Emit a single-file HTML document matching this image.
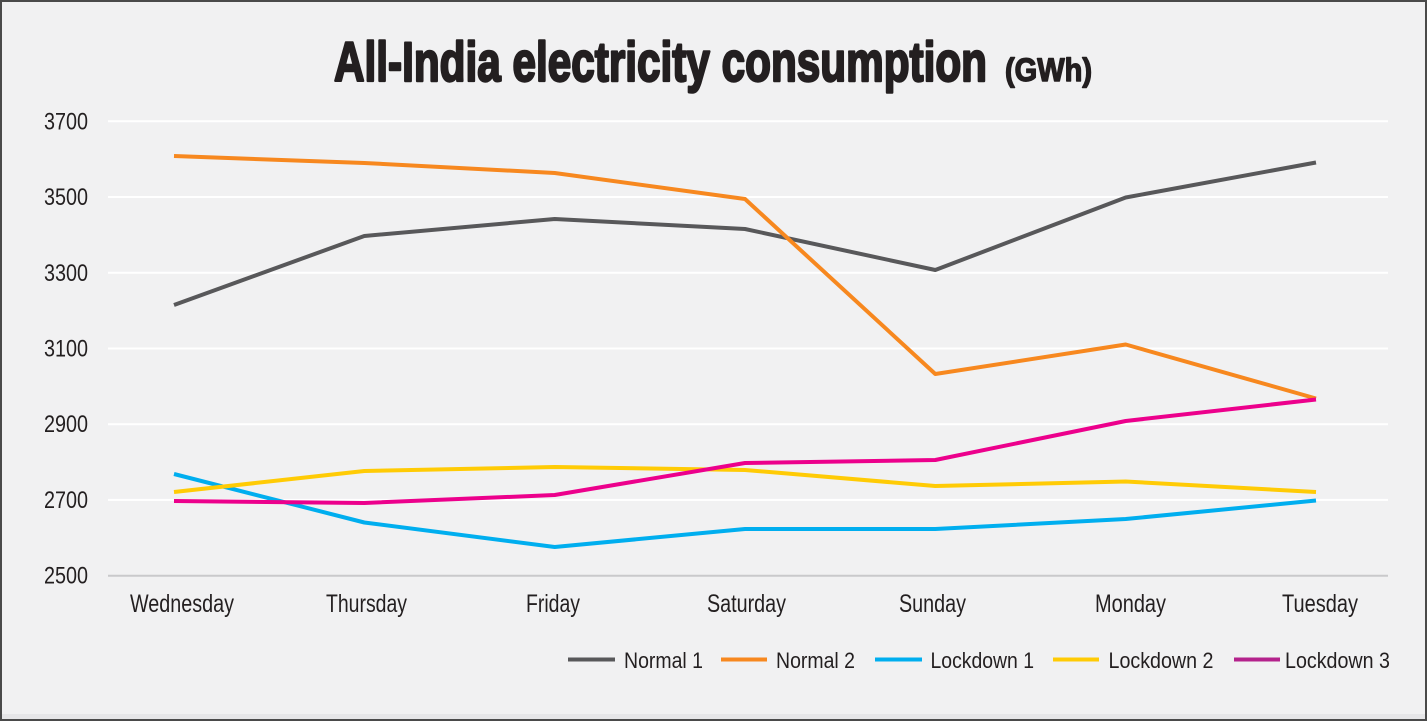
<!DOCTYPE html>
<html>
<head>
<meta charset="utf-8">
<style>
  html,body{margin:0;padding:0;background:#f1f1f2;}
  svg{display:block;}
  text{font-family:"Liberation Sans",Arial,sans-serif;fill:#231f20;}
</style>
</head>
<body>
<svg width="1428" height="722" viewBox="0 0 1428 722" xmlns="http://www.w3.org/2000/svg">
  <rect x="0" y="0" width="1428" height="722" fill="#ffffff"/>
  <rect x="1" y="1" width="1425" height="719" fill="#f1f1f2" stroke="#4a4a4a" stroke-width="2"/>
  <rect x="2" y="714" width="1423" height="5" fill="#e6e6e8"/>

  <!-- Title -->
  <text x="334" y="81" font-size="56" font-weight="bold" textLength="653" lengthAdjust="spacingAndGlyphs" stroke="#231f20" stroke-width="2.4" stroke-linejoin="round">All-India electricity consumption</text>
  <text x="1005" y="81" font-size="32" font-weight="bold" textLength="87" lengthAdjust="spacingAndGlyphs" stroke="#231f20" stroke-width="1.4" stroke-linejoin="round">(GWh)</text>

  <!-- Gridlines -->
  <g stroke="#ffffff" stroke-width="2">
    <line x1="108" y1="121.3" x2="1388" y2="121.3"/>
    <line x1="108" y1="197" x2="1388" y2="197"/>
    <line x1="108" y1="272.8" x2="1388" y2="272.8"/>
    <line x1="108" y1="348.5" x2="1388" y2="348.5"/>
    <line x1="108" y1="424.2" x2="1388" y2="424.2"/>
    <line x1="108" y1="499.9" x2="1388" y2="499.9"/>
  </g>
  <line x1="108" y1="575.7" x2="1388" y2="575.7" stroke="#c9c9cb" stroke-width="2"/>

  <!-- Y labels -->
  <g font-size="24" text-anchor="end">
    <text x="88" y="129.5" textLength="44" lengthAdjust="spacingAndGlyphs">3700</text>
    <text x="88" y="205" textLength="44" lengthAdjust="spacingAndGlyphs">3500</text>
    <text x="88" y="281" textLength="44" lengthAdjust="spacingAndGlyphs">3300</text>
    <text x="88" y="356.5" textLength="44" lengthAdjust="spacingAndGlyphs">3100</text>
    <text x="88" y="432.2" textLength="44" lengthAdjust="spacingAndGlyphs">2900</text>
    <text x="88" y="508" textLength="44" lengthAdjust="spacingAndGlyphs">2700</text>
    <text x="88" y="583.5" textLength="44" lengthAdjust="spacingAndGlyphs">2500</text>
  </g>

  <!-- X labels -->
  <g font-size="25">
    <text x="130" y="612" textLength="104" lengthAdjust="spacingAndGlyphs">Wednesday</text>
    <text x="326" y="612" textLength="81" lengthAdjust="spacingAndGlyphs">Thursday</text>
    <text x="526" y="612" textLength="54" lengthAdjust="spacingAndGlyphs">Friday</text>
    <text x="707" y="612" textLength="79" lengthAdjust="spacingAndGlyphs">Saturday</text>
    <text x="899" y="612" textLength="67" lengthAdjust="spacingAndGlyphs">Sunday</text>
    <text x="1095" y="612" textLength="71" lengthAdjust="spacingAndGlyphs">Monday</text>
    <text x="1282" y="612" textLength="76" lengthAdjust="spacingAndGlyphs">Tuesday</text>
  </g>

  <!-- Series -->
  <g fill="none" stroke-width="4" stroke-linejoin="round" stroke-linecap="butt">
    <polyline stroke="#58585a" points="174,305 364.3,236 554.7,219 745,229 935.3,270 1125.7,197.5 1316,162.5"/>
    <polyline stroke="#f7881f" points="174,156 364.3,163 554.7,173 745,199 935.3,374 1125.7,344.5 1316,398.5"/>
    <polyline stroke="#00aeef" points="174,474 364.3,522.5 554.7,547 745,529 935.3,529 1125.7,519 1316,500.5"/>
    <polyline stroke="#ffcb05" points="174,492 364.3,471 554.7,467 745,470 935.3,486 1125.7,481.5 1316,492"/>
    <polyline stroke="#ec008c" points="174,501 364.3,503 554.7,495 745,463 935.3,460 1125.7,421 1316,399.5"/>
  </g>

  <!-- Legend -->
  <g stroke-width="4">
    <line x1="568" y1="659.5" x2="615" y2="659.5" stroke="#58585a"/>
    <line x1="721" y1="659.5" x2="767" y2="659.5" stroke="#f7881f"/>
    <line x1="875" y1="659.5" x2="922" y2="659.5" stroke="#00aeef"/>
    <line x1="1053" y1="659.5" x2="1099" y2="659.5" stroke="#ffcb05"/>
    <line x1="1234" y1="659.5" x2="1280" y2="659.5" stroke="#b4228c"/>
  </g>
  <g font-size="22">
    <text x="624" y="668" textLength="79" lengthAdjust="spacingAndGlyphs">Normal 1</text>
    <text x="776" y="668" textLength="79" lengthAdjust="spacingAndGlyphs">Normal 2</text>
    <text x="930.5" y="668" textLength="103.5" lengthAdjust="spacingAndGlyphs">Lockdown 1</text>
    <text x="1108.5" y="668" textLength="105" lengthAdjust="spacingAndGlyphs">Lockdown 2</text>
    <text x="1285" y="668" textLength="105" lengthAdjust="spacingAndGlyphs">Lockdown 3</text>
  </g>
</svg>
</body>
</html>
